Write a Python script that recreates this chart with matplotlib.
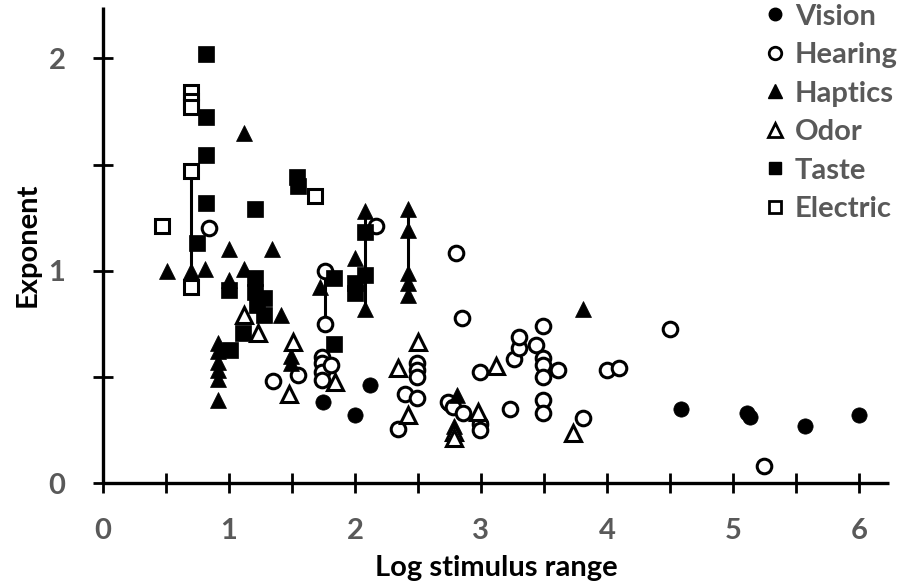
import matplotlib
matplotlib.use("Agg")
import matplotlib.pyplot as plt
from matplotlib.lines import Line2D

# ---------------- data ----------------
vision_x = [1.75, 2.00, 2.12, 2.75, 4.59, 5.11, 5.14, 5.57, 6.00]
vision_y = [0.38, 0.32, 0.46, 0.37, 0.35, 0.33, 0.31, 0.27, 0.32]

hearing_x = [0.84, 1.35, 1.55, 1.74, 1.74, 1.74, 1.74, 1.81, 1.76, 1.76,
             2.17, 2.34, 2.40, 2.49, 2.49, 2.49, 2.49, 2.80, 2.85, 2.74,
             2.78, 2.86, 2.99, 2.99, 2.99, 3.23, 3.26, 3.30, 3.30, 3.44,
             3.49, 3.49, 3.49, 3.49, 3.49, 3.49, 3.61, 3.81, 4.00, 4.10,
             4.50, 5.25]
hearing_y = [1.20, 0.48, 0.51, 0.595, 0.564, 0.524, 0.485, 0.556, 1.00, 0.75,
             1.21, 0.254, 0.42, 0.40, 0.564, 0.532, 0.50, 1.085, 0.775, 0.38,
             0.36, 0.33, 0.28, 0.25, 0.525, 0.35, 0.585, 0.635, 0.69, 0.65,
             0.74, 0.59, 0.555, 0.50, 0.39, 0.33, 0.53, 0.305, 0.53, 0.54,
             0.725, 0.08]

haptics_x = [0.51, 0.70, 0.81, 1.00, 1.00, 1.12, 1.12, 1.34, 1.41,
             0.915, 0.915, 0.915, 0.915, 0.915, 0.915, 1.49, 1.49, 1.72,
             2.00, 2.08, 2.08, 2.42, 2.42, 2.42, 2.42, 2.42, 2.81, 2.79, 3.81]
haptics_y = [1.00, 1.00, 1.01, 1.10, 0.955, 1.65, 1.01, 1.10, 0.79,
             0.66, 0.62, 0.57, 0.53, 0.49, 0.39, 0.60, 0.565, 0.925,
             1.06, 1.28, 0.82, 1.29, 1.19, 0.99, 0.94, 0.885, 0.415, 0.27, 0.82]

odor_x = [1.12, 1.23, 1.51, 1.48, 1.84, 2.34, 2.50, 2.42, 2.79, 2.79, 2.98, 3.12, 3.73]
odor_y = [0.79, 0.705, 0.665, 0.42, 0.477, 0.54, 0.665, 0.32, 0.24, 0.21, 0.336, 0.55, 0.235]

taste_x = [0.82, 0.82, 0.82, 0.82, 0.75, 1.21, 1.54, 1.55,
           1.00, 1.21, 1.21, 1.22, 1.28, 1.28, 1.11, 1.01,
           1.83, 1.83, 2.08, 2.08, 2.00, 2.00]
taste_y = [2.02, 1.725, 1.545, 1.317, 1.13, 1.29, 1.44, 1.40,
           0.91, 0.965, 0.90, 0.84, 0.87, 0.79, 0.705, 0.626,
           0.965, 0.655, 1.18, 0.98, 0.94, 0.895]

electric_x = [0.47, 0.70, 0.70, 0.70, 0.70, 0.70, 1.68]
electric_y = [1.21, 1.84, 1.80, 1.77, 1.47, 0.925, 1.35]

# vertical range lines: x, low, high
range_x = [0.70, 1.76, 2.08, 2.42]
range_lo = [0.925, 0.75, 0.82, 0.885]
range_hi = [1.47, 1.00, 1.28, 1.29]

x_ticks = [0, 1, 2, 3, 4, 5, 6]
y_ticks = [0, 1, 2]
series_names = ["Vision", "Hearing", "Haptics", "Odor", "Taste", "Electric"]

# ---------------- plot ----------------
plt.rcParams['font.family'] = ['Lato', 'DejaVu Sans']
FS = 21
W, H = 909, 585
fig = plt.figure(figsize=(W / 100, H / 100), dpi=100)
ax = fig.add_axes([103 / W, 1 - 483 / H, 786 / W, 476 / H])

ax.vlines(range_x, range_lo, range_hi, colors='black', linewidth=2.2, zorder=2)

ms = 11
ew = 2.2
ax.plot(vision_x, vision_y, 'o', ms=ms, mfc='black', mec='black', mew=0.5, ls='none', zorder=3)
ax.plot(hearing_x, hearing_y, 'o', ms=ms - 0.5, mfc='white', mec='black', mew=ew, ls='none', zorder=3)
ax.plot(haptics_x, haptics_y, '^', ms=ms + 1, mfc='black', mec='black', mew=0.5, ls='none', zorder=3)
ax.plot(odor_x, odor_y, '^', ms=ms + 0.5, mfc='white', mec='black', mew=ew, ls='none', zorder=3)
ax.plot(taste_x, taste_y, 's', ms=ms, mfc='black', mec='black', mew=0.5, ls='none', zorder=3)
ax.plot(electric_x, electric_y, 's', ms=ms - 0.5, mfc='white', mec='black', mew=ew, ls='none', zorder=3)

ax.set_xlim(0, 6.24)
ax.set_ylim(0, 2.242)

for s in ['top', 'right']:
    ax.spines[s].set_visible(False)
for s in ['left', 'bottom']:
    ax.spines[s].set_linewidth(2.4)
    ax.spines[s].set_capstyle('butt')

ax.set_xticks(x_ticks)
ax.set_yticks(y_ticks)
ax.set_xticks([0.5 + i for i in range(6)], minor=True)
ax.set_yticks([0.5, 1.5], minor=True)
ax.tick_params(which='both', direction='inout', length=14, width=2.0, color='black')
ax.tick_params(axis='x', which='major', pad=18)
ax.tick_params(axis='y', which='major', pad=20)
for lab in ax.get_xticklabels() + ax.get_yticklabels():
    lab.set_fontsize(FS)
    lab.set_fontweight('bold')
    lab.set_color('#595959')

ax.set_xlabel("Log stimulus range", fontsize=FS, fontweight='bold', color='black', labelpad=8)
ax.set_ylabel("Exponent", fontsize=FS, fontweight='bold', color='black', labelpad=6)

handles = [
    Line2D([], [], marker='o', ls='none', ms=9, mfc='black', mec='black'),
    Line2D([], [], marker='o', ls='none', ms=9, mfc='white', mec='black', mew=2),
    Line2D([], [], marker='^', ls='none', ms=10, mfc='black', mec='black'),
    Line2D([], [], marker='^', ls='none', ms=10, mfc='white', mec='black', mew=2),
    Line2D([], [], marker='s', ls='none', ms=9, mfc='black', mec='black'),
    Line2D([], [], marker='s', ls='none', ms=9, mfc='white', mec='black', mew=2),
]
leg = fig.legend(handles, series_names, loc='upper left',
                 bbox_to_anchor=(768 / W, 0.994),
                 frameon=False, handlelength=0.5, handletextpad=0.42, labelspacing=0.43,
                 borderaxespad=0.0, borderpad=0.0,
                 prop={'size': FS, 'weight': 'bold'}, labelcolor='#595959')

fig.savefig("out.png", dpi=100)
